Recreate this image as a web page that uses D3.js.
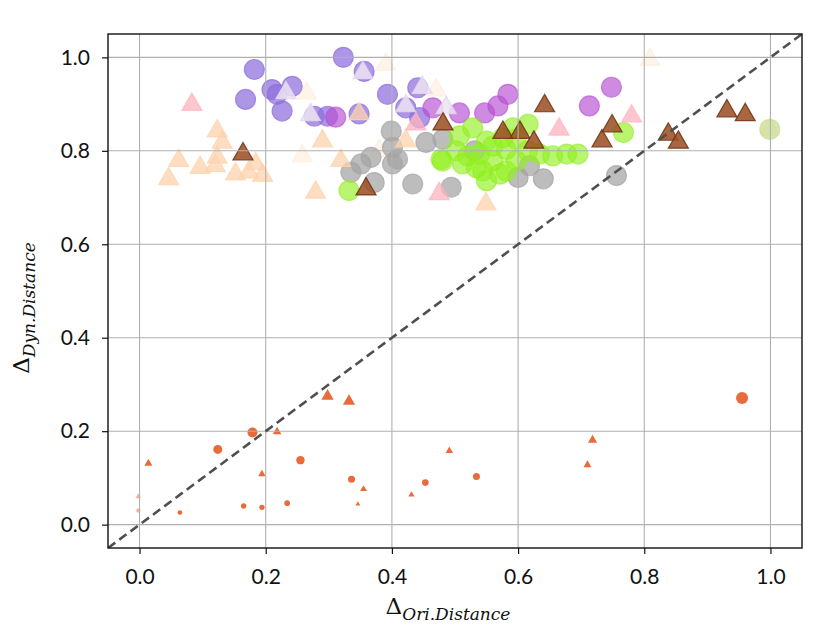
<!DOCTYPE html>
<html>
<head>
<meta charset="utf-8">
<script src="https://cdn.jsdelivr.net/npm/d3@7"></script>
<style>
    body { margin: 0; background: #fff; }
    svg { display: block; }
    .tick text { font-family: Lato, "Open Sans", sans-serif; font-size: 21px; fill: #111; }
</style>
</head>
<body>
<svg width="831" height="633"></svg>
<script>
// ---- data as [x, y] ----
const grayPts = [
    [0.399, 0.842], [0.401, 0.807], [0.367, 0.786], [0.351, 0.772], [0.335, 0.754],
    [0.401, 0.772], [0.372, 0.732], [0.433, 0.729], [0.494, 0.722], [0.454, 0.818],
    [0.481, 0.825], [0.409, 0.782], [0.618, 0.768], [0.600, 0.743], [0.640, 0.740],
    [0.756, 0.747], [0.531, 0.800]
];
const purplePts = [
    [0.182, 0.974], [0.168, 0.910], [0.210, 0.931], [0.242, 0.938], [0.226, 0.885],
    [0.218, 0.921], [0.277, 0.874], [0.298, 0.874], [0.323, 1.000], [0.356, 0.970],
    [0.393, 0.921], [0.348, 0.879], [0.441, 0.935], [0.444, 0.871], [0.422, 0.892]
];
const orchidPts = [
    [0.311, 0.872], [0.465, 0.892], [0.507, 0.881], [0.547, 0.881], [0.568, 0.896],
    [0.584, 0.921], [0.713, 0.896], [0.748, 0.936]
];
const greenPts = [
    [0.528, 0.849], [0.507, 0.832], [0.478, 0.782], [0.520, 0.789], [0.550, 0.821],
    [0.592, 0.849], [0.616, 0.857], [0.534, 0.764], [0.560, 0.779], [0.550, 0.736],
    [0.571, 0.750], [0.581, 0.803], [0.597, 0.779], [0.634, 0.793], [0.655, 0.789],
    [0.677, 0.793], [0.695, 0.793], [0.332, 0.715], [0.767, 0.839], [0.502, 0.800],
    [0.539, 0.793], [0.576, 0.828], [0.597, 0.825], [0.512, 0.772], [0.544, 0.757],
    [0.581, 0.757], [0.480, 0.778], [0.560, 0.810], [0.615, 0.800]
];
const paleGreenPts = [[0.999, 0.846]];
const peachPts = [
    [0.123, 0.842], [0.131, 0.818], [0.062, 0.779], [0.046, 0.740], [0.096, 0.764],
    [0.120, 0.768], [0.123, 0.786], [0.152, 0.750], [0.173, 0.754], [0.184, 0.772],
    [0.195, 0.747], [0.290, 0.821], [0.279, 0.711], [0.319, 0.779], [0.549, 0.686],
    [0.422, 0.821], [0.348, 0.879]
];
const peachFaintPts = [
    [0.258, 0.789], [0.265, 0.923], [0.390, 0.985], [0.809, 0.995], [0.999, 0.846],
    [0.470, 0.930], [0.380, 0.800]
];
const pinkPts = [
    [0.083, 0.899], [0.475, 0.708], [0.665, 0.846], [0.780, 0.874], [0.438, 0.857]
];
const lavenderPts = [
    [0.232, 0.924], [0.271, 0.877], [0.486, 0.892], [0.422, 0.896], [0.448, 0.935],
    [0.354, 0.967]
];
const brownPts = [
    [0.164, 0.793], [0.359, 0.718], [0.481, 0.857], [0.576, 0.839], [0.603, 0.839],
    [0.625, 0.818], [0.642, 0.896], [0.733, 0.821], [0.749, 0.853], [0.838, 0.835],
    [0.854, 0.818], [0.931, 0.885], [0.960, 0.877]
];
// lower cluster: [x, y, magnitude]
const lowCircles = [
    [0.179, 0.197, 0.59], [0.124, 0.161, 0.48], [0.255, 0.138, 0.42], [0.336, 0.097, 0.29],
    [0.453, 0.090, 0.26], [0.534, 0.103, 0.29], [0.955, 0.271, 0.85], [-0.002, 0.030, 0.10],
    [0.064, 0.026, 0.13], [0.165, 0.040, 0.17], [0.194, 0.037, 0.17], [0.234, 0.046, 0.19]
];
const lowTriangles = [
    [0.298, 0.275, 0.90], [0.332, 0.264, 0.88], [0.218, 0.199, 0.44], [0.014, 0.131, 0.38],
    [0.194, 0.108, 0.33], [0.355, 0.076, 0.28], [0.346, 0.044, 0.13], [0.431, 0.064, 0.23],
    [0.491, 0.158, 0.33], [-0.002, 0.060, 0.20], [0.718, 0.181, 0.50], [0.710, 0.128, 0.38]
];
const xTicks = [0, 0.2, 0.4, 0.6, 0.8, 1.0];
const yTicks = [0, 0.2, 0.4, 0.6, 0.8, 1.0];

class Scatter {
    constructor() {
        this.svg = d3.select('svg');
        this.svgWidth = 831;
        this.svgHeight = 633;
        this.margin = { top: 34, right: 29, bottom: 85, left: 108 };
        this.innerWidth = this.svgWidth - this.margin.left - this.margin.right;
        this.innerHeight = this.svgHeight - this.margin.top - this.margin.bottom;
        this.domain = [-0.05, 1.05];
    }

    createPlot = () => {
        this.setScales();
        this.setContainer();
        this.drawGroups();
        this.drawLowCluster();
        this.drawGrid();
        this.drawDiagonal();
        this.drawAxes();
        this.drawTitles();
    }

    setScales = () => {
        this.xScale = d3.scaleLinear().domain(this.domain).range([0, this.innerWidth]);
        this.yScale = d3.scaleLinear().domain(this.domain).range([this.innerHeight, 0]);
        // big markers: circle radius 10, triangle about 20px wide
        this.bigCircle = d3.symbol().type(d3.symbolCircle).size(Math.PI * 100);
        this.bigTriangle = d3.symbol().type(d3.symbolTriangle).size(20 * 20 * Math.sqrt(3) / 4);
        this.rScale = d3.scaleSqrt().domain([0, 1]).range([0, 6.5]);
    }

    setContainer = () => {
        this.svg.append('defs').append('clipPath').attr('id', 'clip')
            .append('rect').attr('width', this.innerWidth).attr('height', this.innerHeight);
        this.g = this.svg.append('g')
            .attr('transform', `translate(${this.margin.left},${this.margin.top})`);
        this.plotArea = this.g.append('g').attr('clip-path', 'url(#clip)');
    }

    drawGroups = () => {
        // order matters: later groups sit on top
        const groups = [
            { pts: peachFaintPts, sym: this.bigTriangle, fill: '#ffd9b8', stroke: '#ffd9b8', op: 0.3 },
            { pts: grayPts, sym: this.bigCircle, fill: '#a3a3a3', stroke: '#a3a3a3', op: 0.72 },
            { pts: purplePts, sym: this.bigCircle, fill: '#8f6edd', stroke: '#8f6edd', op: 0.72 },
            { pts: orchidPts, sym: this.bigCircle, fill: '#b64fd2', stroke: '#b64fd2', op: 0.66 },
            { pts: greenPts, sym: this.bigCircle, fill: '#92f020', stroke: '#92f020', op: 0.64 },
            { pts: paleGreenPts, sym: this.bigCircle, fill: '#c4dc8a', stroke: '#c4dc8a', op: 0.7 },
            { pts: peachPts, sym: this.bigTriangle, fill: '#fdd3ae', stroke: '#fdd3ae', op: 0.75 },
            { pts: pinkPts, sym: this.bigTriangle, fill: '#ffb3bf', stroke: '#ffb3bf', op: 0.75 },
            { pts: lavenderPts, sym: this.bigTriangle, fill: '#ece3f2', stroke: '#e2d6ec', op: 0.85 },
            { pts: brownPts, sym: this.bigTriangle, fill: '#9c5127', stroke: '#6e3415', op: 0.88 }
        ];
        groups.forEach(grp => {
            this.plotArea.append('g')
                .selectAll('path')
                .data(grp.pts)
                .join('path')
                .attr('d', grp.sym)
                .attr('transform', d => `translate(${this.xScale(d[0])},${this.yScale(d[1])})`)
                .attr('fill', grp.fill)
                .attr('fill-opacity', grp.op)
                .attr('stroke', grp.stroke)
                .attr('stroke-opacity', grp.op)
                .attr('stroke-width', 1.2);
        });
    }

    drawLowCluster = () => {
        const colour = '#e8622f';
        const faint = d => d[0] < 0.01 ? 0.5 : 0.95;
        const low = this.plotArea.append('g');
        low.selectAll('circle')
            .data(lowCircles)
            .join('circle')
            .attr('cx', d => this.xScale(d[0]))
            .attr('cy', d => this.yScale(d[1]))
            .attr('r', d => this.rScale(d[2]))
            .attr('fill', colour)
            .attr('opacity', faint);
        low.selectAll('path')
            .data(lowTriangles)
            .join('path')
            .attr('d', d => {
                const w = 2.0 * this.rScale(d[2]);
                return d3.symbol().type(d3.symbolTriangle).size(w * w * Math.sqrt(3) / 4)();
            })
            .attr('transform', d => `translate(${this.xScale(d[0])},${this.yScale(d[1])})`)
            .attr('fill', colour)
            .attr('opacity', faint);
    }

    drawGrid = () => {
        // matplotlib puts the grid above scatter points
        const grid = this.plotArea.append('g').attr('stroke', '#b0b0b0').attr('stroke-width', 1.1);
        grid.selectAll('.gx').data(xTicks).join('line')
            .attr('x1', d => this.xScale(d)).attr('x2', d => this.xScale(d))
            .attr('y1', 0).attr('y2', this.innerHeight);
        grid.selectAll('.gy').data(yTicks).join('line')
            .attr('y1', d => this.yScale(d)).attr('y2', d => this.yScale(d))
            .attr('x1', 0).attr('x2', this.innerWidth);
    }

    drawDiagonal = () => {
        this.plotArea.append('line')
            .attr('x1', this.xScale(this.domain[0])).attr('y1', this.yScale(this.domain[0]))
            .attr('x2', this.xScale(this.domain[1])).attr('y2', this.yScale(this.domain[1]))
            .attr('stroke', '#4f4f4f')
            .attr('stroke-width', 2.6)
            .attr('stroke-dasharray', '9,5');
    }

    drawAxes = () => {
        const xAxis = d3.axisBottom(this.xScale).tickValues(xTicks)
            .tickFormat(d3.format('.1f')).tickSize(6).tickPadding(15);
        const yAxis = d3.axisLeft(this.yScale).tickValues(yTicks)
            .tickFormat(d3.format('.1f')).tickSize(6).tickPadding(12);
        this.g.append('g').attr('transform', `translate(0,${this.innerHeight})`).call(xAxis)
            .call(a => a.select('.domain').remove());
        this.g.append('g').call(yAxis)
            .call(a => a.select('.domain').remove());
        this.g.selectAll('.tick line').attr('stroke', '#111').attr('stroke-width', 1.2);
        // frame
        this.g.append('rect')
            .attr('width', this.innerWidth).attr('height', this.innerHeight)
            .attr('fill', 'none').attr('stroke', '#111').attr('stroke-width', 1.4);
    }

    drawTitles = () => {
        const addTitle = (sel, sub) => {
            sel.append('tspan')
                .attr('font-family', '"DejaVu Serif", serif')
                .attr('font-size', 23)
                .text('Δ');
            sel.append('tspan')
                .attr('font-family', '"DejaVu Serif", serif')
                .attr('font-style', 'italic')
                .attr('font-size', 17)
                .attr('dy', 6)
                .text(sub);
        };
        const xt = this.svg.append('text')
            .attr('x', 448).attr('y', 614)
            .attr('text-anchor', 'middle').attr('fill', '#111');
        addTitle(xt, 'Ori.Distance');
        const yt = this.svg.append('text')
            .attr('transform', 'translate(29,308) rotate(-90)')
            .attr('text-anchor', 'middle').attr('fill', '#111');
        addTitle(yt, 'Dyn.Distance');
    }
}

new Scatter().createPlot();
</script>
</body>
</html>
